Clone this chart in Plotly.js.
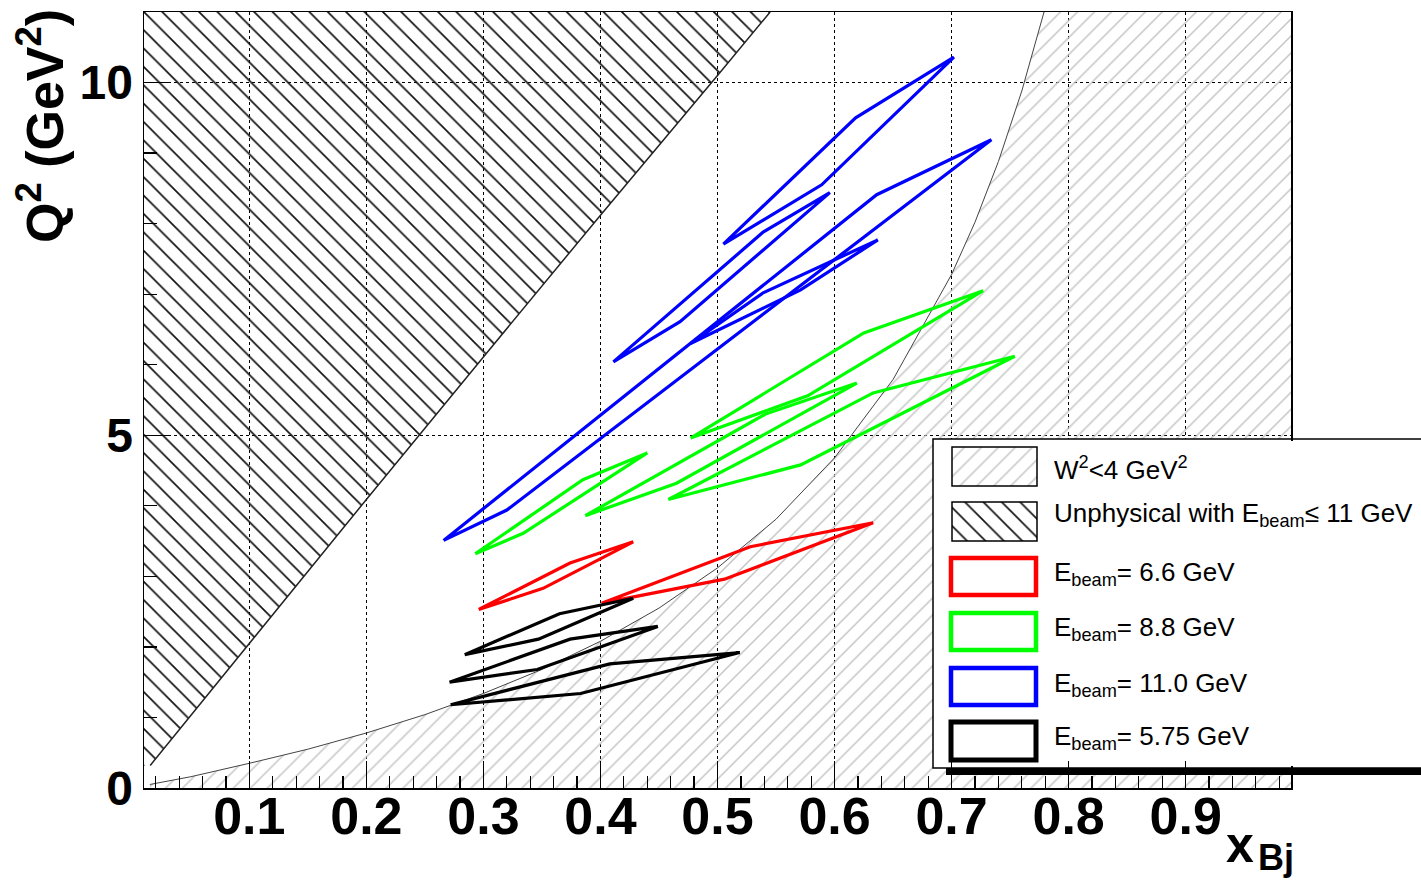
<!DOCTYPE html>
<html>
<head>
<meta charset="utf-8">
<script src="https://cdn.plot.ly/plotly-3.0.1.min.js"></script>
<style>
  html, body { margin: 0; padding: 0; background: #ffffff; }
  #chart { width: 1421px; height: 881px; }
</style>
</head>
<body>
<div id="chart"></div>
<script>
// ---------------- data (x_Bj, Q^2 in GeV^2) ----------------
const xTickVals = [0.1, 0.2, 0.3, 0.4, 0.5, 0.6, 0.7, 0.8, 0.9];
const xTickText = ['0.1', '0.2', '0.3', '0.4', '0.5', '0.6', '0.7', '0.8', '0.9'];
const yTickVals = [0, 5, 10];
const yTickText = ['0', '5', '10'];

// kinematic limit for E_beam = 11 GeV
const unphysX  = [0.0153, 0.1, 0.2, 0.3, 0.4, 0.5, 0.545];
const unphysQ2 = [0.32, 2.05, 4.09, 6.11, 8.12, 10.10, 11.0];

// W^2 = 4 GeV^2 boundary
const w2X  = [0.015, 0.05, 0.1, 0.15, 0.2, 0.25, 0.3, 0.35, 0.4, 0.45, 0.5, 0.55, 0.6, 0.65, 0.7, 0.72, 0.74, 0.76, 0.779];
const w2Q2 = [0.05, 0.16, 0.35, 0.55, 0.78, 1.04, 1.34, 1.68, 2.08, 2.55, 3.12, 3.81, 4.68, 5.79, 7.28, 8.02, 8.88, 9.88, 11.0];

// E_beam = 6.6 GeV (red)
const red1X = [0.296, 0.374, 0.428, 0.351];
const red1Q2 = [2.53, 3.19, 3.49, 2.83];
const red2X = [0.401, 0.528, 0.633, 0.506];
const red2Q2 = [2.62, 3.42, 3.76, 2.96];

// E_beam = 8.8 GeV (green)
const green1X = [0.293, 0.385, 0.440, 0.334];
const green1Q2 = [3.32, 4.37, 4.75, 3.61];
const green2X = [0.387, 0.541, 0.619, 0.465];
const green2Q2 = [3.86, 5.30, 5.74, 4.32];
const green3X = [0.477, 0.625, 0.727, 0.577];
const green3Q2 = [4.96, 6.45, 7.05, 5.56];
const green4X = [0.458, 0.633, 0.754, 0.571];
const green4Q2 = [4.09, 5.60, 6.12, 4.58];

// E_beam = 11.0 GeV (blue)
const blue1X = [0.266, 0.636, 0.734, 0.320];
const blue1Q2 = [3.51, 8.41, 9.19, 3.94];
const blue2X = [0.411, 0.539, 0.596, 0.468];
const blue2Q2 = [6.04, 7.88, 8.44, 6.61];
const blue3X = [0.477, 0.539, 0.637, 0.571];
const blue3Q2 = [6.30, 7.02, 7.77, 7.06];
const blue4X = [0.505, 0.618, 0.702, 0.589];
const blue4Q2 = [7.71, 9.50, 10.36, 8.55];

// E_beam = 5.75 GeV (black)
const black1X = [0.284, 0.365, 0.428, 0.347];
const black1Q2 = [1.89, 2.47, 2.69, 2.11];
const black2X = [0.271, 0.374, 0.449, 0.346];
const black2Q2 = [1.50, 2.11, 2.29, 1.68];
const black3X = [0.272, 0.408, 0.519, 0.383];
const black3Q2 = [1.18, 1.76, 1.92, 1.34];

const legendLabels = [
  'W<sup>2</sup>&lt;4 GeV<sup>2</sup>',
  'Unphysical with E<sub>beam</sub>\u2264 11 GeV',
  'E<sub>beam</sub>= 6.6 GeV',
  'E<sub>beam</sub>= 8.8 GeV',
  'E<sub>beam</sub>= 11.0 GeV',
  'E<sub>beam</sub>= 5.75 GeV'
];

// ---------------- traces ----------------
const FONT = 'Liberation Sans, Arial, Helvetica, sans-serif';
const XMIN = 0.01, XMAX = 0.99, YMIN = 0, YMAX = 11;

function closed(a) { return a.concat([a[0]]); }
function poly(x, y, color, width) {
  return { type: 'scatter', mode: 'lines', x: closed(x), y: closed(y),
           line: { color: color, width: width }, hoverinfo: 'skip', showlegend: false };
}

const traces = [];

// W^2 < 4 region (light grey hatch)
traces.push({
  type: 'scatter', mode: 'none',
  x: w2X.concat([XMAX, XMAX, w2X[0]]),
  y: w2Q2.concat([YMAX, YMIN, YMIN]),
  fill: 'toself', fillcolor: 'rgba(0,0,0,0)',
  fillpattern: { shape: '/', fgcolor: '#c4c4c4', bgcolor: 'rgba(255,255,255,0)', size: 12, solidity: 0.12 },
  hoverinfo: 'skip', showlegend: false
});
// unphysical region (black hatch)
traces.push({
  type: 'scatter', mode: 'none',
  x: [XMIN].concat(unphysX, [XMIN]),
  y: [unphysQ2[0]].concat(unphysQ2, [YMAX]),
  fill: 'toself', fillcolor: 'rgba(0,0,0,0)',
  fillpattern: { shape: '\\', fgcolor: '#111111', bgcolor: 'rgba(255,255,255,0)', size: 13, solidity: 0.13 },
  hoverinfo: 'skip', showlegend: false
});
traces.push({ type: 'scatter', mode: 'lines', x: w2X, y: w2Q2,
  line: { color: '#444444', width: 1 }, hoverinfo: 'skip', showlegend: false });
traces.push({ type: 'scatter', mode: 'lines', x: unphysX, y: unphysQ2,
  line: { color: '#222222', width: 1.5 }, hoverinfo: 'skip', showlegend: false });

const W = 3.2;
[[red1X, red1Q2], [red2X, red2Q2]].forEach(p => traces.push(poly(p[0], p[1], '#ff0000', W)));
[[green1X, green1Q2], [green2X, green2Q2], [green3X, green3Q2], [green4X, green4Q2]]
  .forEach(p => traces.push(poly(p[0], p[1], '#00ff00', W)));
[[blue1X, blue1Q2], [blue2X, blue2Q2], [blue3X, blue3Q2], [blue4X, blue4Q2]]
  .forEach(p => traces.push(poly(p[0], p[1], '#0000ff', W)));
[[black1X, black1Q2], [black2X, black2Q2], [black3X, black3Q2]]
  .forEach(p => traces.push(poly(p[0], p[1], '#000000', W)));

// ---------------- hand-made legend (fractions of plot area, overlay axes) ----------------
const L = 144, R = 130, T = 12, B = 93, WIDTH = 1421, HEIGHT = 881;
const PW = WIDTH - L - R, PH = HEIGHT - T - B;
const fx = px => (px - L) / PW;
const fy = py => (HEIGHT - B - py) / PH;

function rectXY(x0, y0, x1, y1) {
  return { x: [fx(x0), fx(x1), fx(x1), fx(x0), fx(x0)], y: [fy(y0), fy(y0), fy(y1), fy(y1), fy(y0)] };
}
const bg = rectXY(933, 439, 1500, 768);
traces.push({ type: 'scatter', mode: 'lines', xaxis: 'x2', yaxis: 'y2', x: bg.x, y: bg.y,
  fill: 'toself', fillcolor: '#ffffff', line: { width: 0 }, hoverinfo: 'skip', showlegend: false });
const sw1 = rectXY(952, 447, 1037, 486);
traces.push({ type: 'scatter', mode: 'none', xaxis: 'x2', yaxis: 'y2', x: sw1.x, y: sw1.y,
  fill: 'toself', fillcolor: 'rgba(0,0,0,0)',
  fillpattern: { shape: '/', fgcolor: '#c4c4c4', bgcolor: 'rgba(255,255,255,0)', size: 12, solidity: 0.12 },
  hoverinfo: 'skip', showlegend: false });
const sw2 = rectXY(952, 502, 1037, 541);
traces.push({ type: 'scatter', mode: 'none', xaxis: 'x2', yaxis: 'y2', x: sw2.x, y: sw2.y,
  fill: 'toself', fillcolor: 'rgba(0,0,0,0)',
  fillpattern: { shape: '\\', fgcolor: '#111111', bgcolor: 'rgba(255,255,255,0)', size: 13, solidity: 0.13 },
  hoverinfo: 'skip', showlegend: false });

const shapes = [];
function pshape(x0, y0, x1, y1, color, width, fill) {
  shapes.push({ type: 'rect', xref: 'paper', yref: 'paper', layer: 'above',
    x0: fx(x0), x1: fx(x1), y0: fy(y1), y1: fy(y0),
    line: { color: color, width: width }, fillcolor: fill || 'rgba(0,0,0,0)' });
}
pshape(1284, 441, 1300, 766, 'rgba(0,0,0,0)', 0, '#ffffff');   // hide frame under legend
pshape(946, 768, 1500, 775, 'rgba(0,0,0,0)', 0, '#000000');   // shadow
pshape(933, 439, 1500, 768, '#000000', 1.5);                    // frame
pshape(952, 447, 1037, 486, '#000000', 1.5);
pshape(952, 502, 1037, 541, '#000000', 1.5);
pshape(951, 558, 1036, 595, '#ff0000', 4.5);
pshape(951, 613, 1036, 650, '#00ff00', 4.5);
pshape(951, 668, 1036, 705, '#0000ff', 4.5);
pshape(951, 722, 1036, 760, '#000000', 5);

const annotations = [];
const rowY = [468, 514, 573, 628, 684, 737];
legendLabels.forEach((t, i) => annotations.push({
  xref: 'paper', yref: 'paper', x: fx(1052), y: fy(rowY[i]), xanchor: 'left', yanchor: 'middle',
  text: t, showarrow: false, font: { family: FONT, size: 26, color: '#000000' }
}));
// axis titles
annotations.push({ xref: 'paper', yref: 'paper', x: fx(41), y: fy(126), xanchor: 'center', yanchor: 'middle',
  textangle: -90, text: 'Q<sup>2</sup> (GeV<sup>2</sup>)', showarrow: false,
  font: { family: FONT, size: 52, color: '#000000', weight: 'bold' } });
annotations.push({ xref: 'paper', yref: 'paper', x: fx(1240), y: fy(845), xanchor: 'center', yanchor: 'middle',
  text: 'x', showarrow: false, font: { family: FONT, size: 50, color: '#000000', weight: 'bold' } });
annotations.push({ xref: 'paper', yref: 'paper', x: fx(1256), y: fy(858), xanchor: 'left', yanchor: 'middle',
  text: 'Bj', showarrow: false, font: { family: FONT, size: 36, color: '#000000', weight: 'bold' } });

const layout = {
  width: WIDTH, height: HEIGHT,
  margin: { l: L, r: R, t: T, b: B, pad: 0 },
  paper_bgcolor: '#ffffff', plot_bgcolor: '#ffffff',
  showlegend: false,
  xaxis: {
    range: [XMIN, XMAX], tickmode: 'array', tickvals: xTickVals, ticktext: xTickText,
    ticks: 'inside', ticklen: 27, tickwidth: 1.2, tickcolor: '#000000',
    minor: { tickmode: 'linear', tick0: 0, dtick: 0.02, ticks: 'inside', ticklen: 12, tickwidth: 1.2, tickcolor: '#000000', showgrid: false },
    showgrid: true, gridcolor: '#000000', gridwidth: 1, griddash: '3px,3px',
    showline: true, linecolor: '#000000', linewidth: 1.5, mirror: true, zeroline: false,
    tickfont: { family: FONT, size: 52, color: '#000000', weight: 'bold' }, ticklabelstandoff: -18
  },
  yaxis: {
    range: [YMIN, YMAX], tickmode: 'array', tickvals: yTickVals, ticktext: yTickText,
    ticks: 'inside', ticklen: 27, tickwidth: 1.2, tickcolor: '#000000',
    minor: { tickmode: 'linear', tick0: 0, dtick: 1, ticks: 'inside', ticklen: 13, tickwidth: 1.2, tickcolor: '#000000', showgrid: false },
    showgrid: true, gridcolor: '#000000', gridwidth: 1, griddash: '3px,3px',
    showline: true, linecolor: '#000000', linewidth: 1.5, mirror: true, zeroline: false,
    tickfont: { family: FONT, size: 48, color: '#000000', weight: 'bold' }, ticklabelstandoff: 0
  },
  xaxis2: { overlaying: 'x', anchor: 'y2', range: [0, 1], visible: false, fixedrange: true },
  yaxis2: { overlaying: 'y', anchor: 'x2', range: [0, 1], visible: false, fixedrange: true },
  shapes: shapes,
  annotations: annotations
};

Plotly.newPlot('chart', traces, layout, { displayModeBar: false, staticPlot: true });
</script>
</body>
</html>
